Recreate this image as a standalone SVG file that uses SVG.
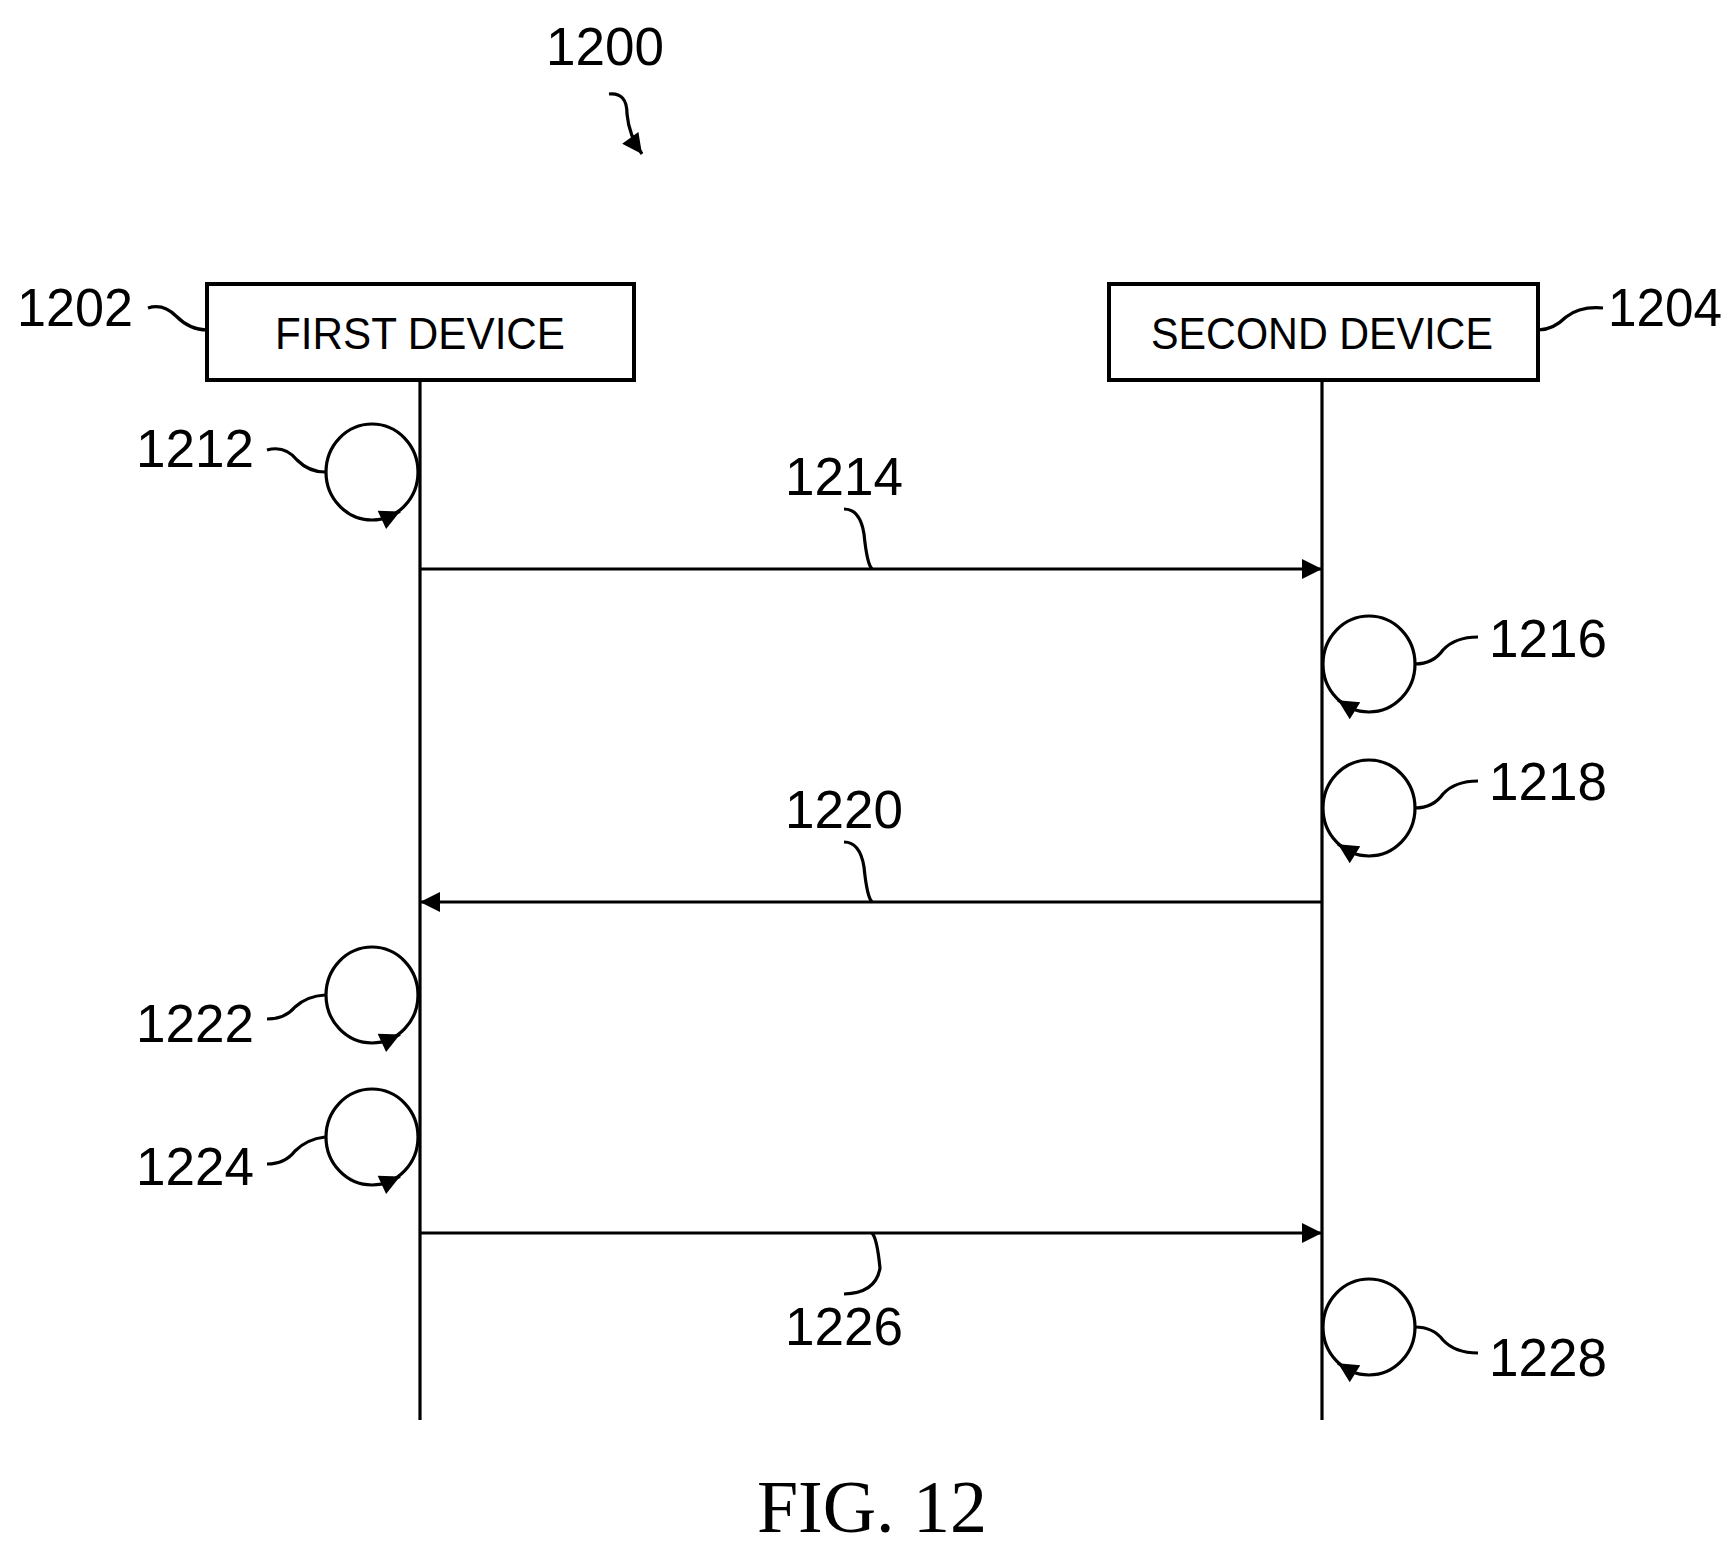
<svg xmlns="http://www.w3.org/2000/svg" width="1733" height="1556" viewBox="0 0 1733 1556">
<style>
.l{fill:none;stroke:#000;stroke-width:3.2}
.b{fill:#fff;stroke:#000;stroke-width:4}
.t{font-family:"Liberation Sans",Arial,sans-serif;font-size:53px;fill:#000}
.bt{font-family:"Liberation Sans",Arial,sans-serif;font-size:44px;fill:#000;text-anchor:middle}
</style>
<defs>
<marker id="ah" viewBox="0 0 10 10" refX="10" refY="5" markerWidth="30" markerHeight="20" markerUnits="userSpaceOnUse" orient="auto"><path d="M0,0L10,5L0,10z" fill="#000"/></marker>
<g id="lloop"><ellipse cx="0" cy="0" rx="46" ry="48" class="l"/><path d="M16,45 l12,-5.6" class="l" marker-end="url(#ah)"/></g>
<g id="rloop"><ellipse cx="0" cy="0" rx="46" ry="48" class="l"/><path d="M-20,43 l-11,-6.8" class="l" marker-end="url(#ah)"/></g>
</defs>
<g id="title"><text x="605" y="65" class="t" text-anchor="middle">1200</text>
<path d="M609,94 q18,-2 18,20 q2,22 15,40" class="l" marker-end="url(#ah)"/></g>
<g id="connectors">
<line x1="420" y1="380" x2="420" y2="1420" class="l" stroke-width="2.5"/>
<line x1="1322" y1="380" x2="1322" y2="1420" class="l" stroke-width="2.5"/>
<line x1="420" y1="569" x2="1322" y2="569" class="l" marker-end="url(#ah)"/>
<line x1="1322" y1="902" x2="420" y2="902" class="l" marker-end="url(#ah)"/>
<line x1="420" y1="1233" x2="1322" y2="1233" class="l" marker-end="url(#ah)"/>
<path d="M844,509 q16,0 20,25 q3,30 8,35" class="l"/>
<path d="M844,842 q16,0 20,25 q3,30 8,35" class="l"/>
<path d="M872,1233 q5,5 8,35 q-4,25 -36,26" class="l"/>
</g>
<g id="n1202"><rect x="207" y="284" width="427" height="96" class="b"/><text x="420" y="349" class="bt" textLength="290" lengthAdjust="spacingAndGlyphs">FIRST DEVICE</text>
<text x="17" y="326" class="t" textLength="116" lengthAdjust="spacingAndGlyphs">1202</text><path d="M148,308 q15,-5 28,8 q14,14 31,14" class="l"/></g>
<g id="n1204"><rect x="1109" y="284" width="429" height="96" class="b"/><text x="1322" y="349" class="bt" textLength="342" lengthAdjust="spacingAndGlyphs">SECOND DEVICE</text>
<text x="1608" y="326" class="t" textLength="114" lengthAdjust="spacingAndGlyphs">1204</text><path d="M1538,330 q15,0 28,-13 q14,-11 37,-9" class="l"/></g>
<g id="n1212"><use href="#lloop" x="372" y="472"/><text x="136" y="467" class="t">1212</text><path d="M267,450 q18,-5 30,10 q12,12 28,12" class="l"/></g>
<g id="n1214"><text x="844" y="495" class="t" text-anchor="middle">1214</text></g>
<g id="n1216"><use href="#rloop" x="1369" y="664"/><text x="1489" y="657" class="t">1216</text><path d="M1415,664 q18,0 28,-14 q12,-13 35,-13" class="l"/></g>
<g id="n1218"><use href="#rloop" x="1369" y="808"/><text x="1489" y="800" class="t">1218</text><path d="M1415,808 q18,0 28,-14 q12,-13 35,-13" class="l"/></g>
<g id="n1220"><text x="844" y="828" class="t" text-anchor="middle">1220</text></g>
<g id="n1222"><use href="#lloop" x="372" y="995"/><text x="136" y="1042" class="t">1222</text><path d="M267,1019 q18,0 28,-12 q12,-11 30,-12" class="l"/></g>
<g id="n1224"><use href="#lloop" x="372" y="1137"/><text x="136" y="1185" class="t">1224</text><path d="M267,1164 q18,0 28,-13 q12,-12 30,-14" class="l"/></g>
<g id="n1226"><text x="844" y="1345" class="t" text-anchor="middle">1226</text></g>
<g id="n1228"><use href="#rloop" x="1369" y="1327"/><text x="1489" y="1376" class="t">1228</text><path d="M1415,1327 q18,0 28,13 q12,13 35,13" class="l"/></g>
<g id="fig"><text x="872" y="1532" font-family="Liberation Serif,serif" font-size="74" text-anchor="middle">FIG. 12</text></g>
</svg>
